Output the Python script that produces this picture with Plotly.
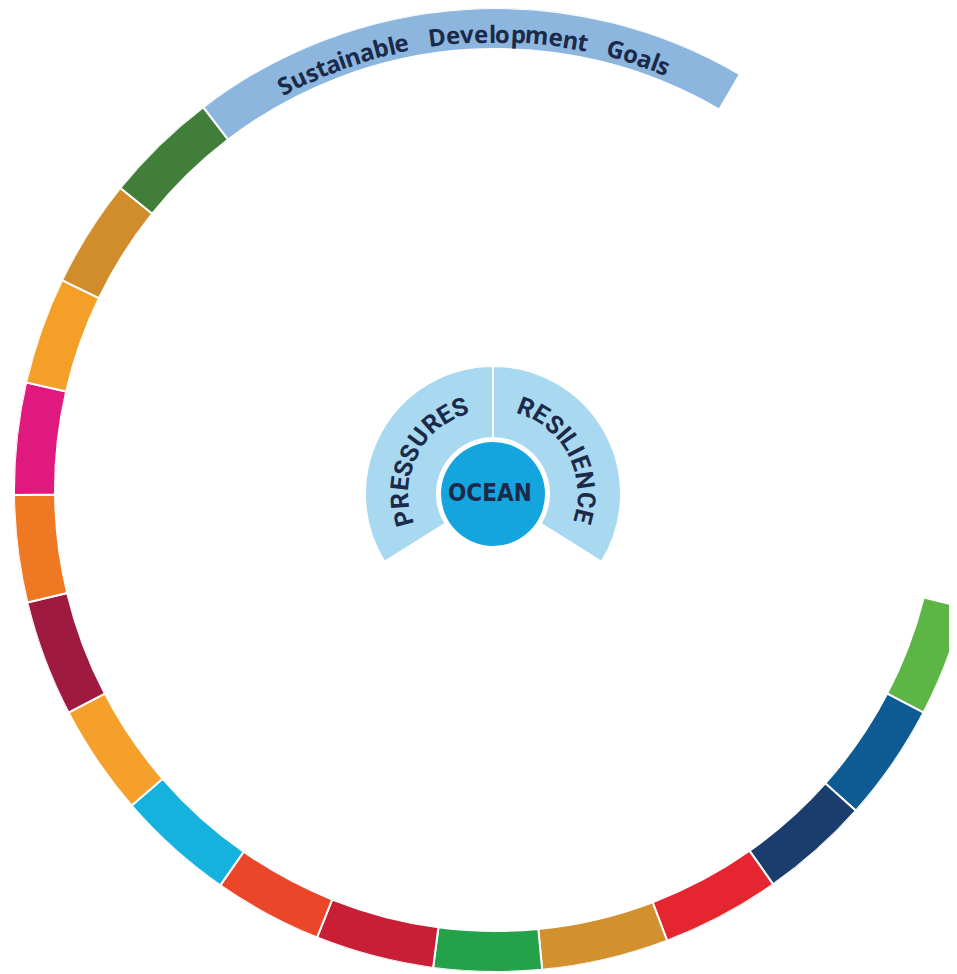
import math
import plotly.graph_objects as go

FIG_W, FIG_H = 957, 974
PAGE_MARGIN = 8   # default <body> margin of the html page; positions below are page pixels

# ---------------- data ----------------
sdg_numbers = [15, 16, 17, 1, 2, 3, 4, 5, 6, 7, 8, 9, 10, 11, 12, 13]
sdg_names = [
    "Life on land", "Peace, justice and strong institutions", "Partnerships for the goals",
    "No poverty", "Zero hunger", "Good health and well-being", "Quality education",
    "Gender equality", "Clean water and sanitation", "Affordable and clean energy",
    "Decent work and economic growth", "Industry, innovation and infrastructure",
    "Reduced inequalities", "Sustainable cities and communities",
    "Responsible consumption and production", "Climate action",
]
sdg_colors = [
    "#5DB546", "#0E5A93", "#1A3D6E", "#E52530", "#D3902F", "#24A24A", "#C81E36", "#EB452A",
    "#15B2DE", "#F4A02A", "#9E1A40", "#EE7922", "#E0197E", "#F4A028", "#D18D2B", "#417E3A",
]
# angular span of each SDG segment (degrees), read clockwise from goal 15
sdg_span_deg = [13.4, 14.2, 13.2, 14.3, 15.3, 13.0, 14.3, 13.1,
                14.2, 13.4, 14.0, 12.9, 13.5, 12.9, 13.0, 13.8]
sdg_start_deg = 345.9          # angle where goal 15 begins

band_label = "Sustainable Development Goals"
band_color = "#8DB6DF"
band_span_deg = 67.8

core_labels = ["PRESSURES", "RESILIENCE"]
core_start_deg = [212.0, 90.0]   # counter-clockwise edge of each arc
core_span_deg = [122.0, 122.0]
core_color = "#A9D8F1"
ocean_label = "OCEAN"
ocean_color = "#14A5DE"

# ---------------- geometry / styling (figure pixels) ----------------
RING_CX, RING_CY, RING_R = 496 - PAGE_MARGIN, 490 - PAGE_MARGIN, 482
RING_IN = 442
CORE_CX, CORE_CY, CORE_R = 493 - PAGE_MARGIN, 494 - PAGE_MARGIN, 130
OCEAN_R, CORE_IN, CORE_OUT = 52, 56, 128
TEXT_COLOR = "#1B2A49"

# segment centres
sdg_theta = []
a = sdg_start_deg
for w in sdg_span_deg:
    sdg_theta.append(a - w / 2)
    a -= w
band_start = a
band_theta = band_start - band_span_deg / 2
band_end = band_start - band_span_deg

core_theta = [s - w / 2 for s, w in zip(core_start_deg, core_span_deg)]

fig = go.Figure()

fig.add_trace(go.Barpolar(
    r=[RING_R - RING_IN + 1] * len(sdg_numbers),
    base=[RING_IN - 1] * len(sdg_numbers),
    theta=sdg_theta, width=sdg_span_deg,
    marker=dict(color=sdg_colors, line=dict(color="white", width=2)),
    customdata=[[n, s] for n, s in zip(sdg_numbers, sdg_names)],
    hovertemplate="SDG %{customdata[0]}: %{customdata[1]}<extra></extra>",
    subplot="polar", showlegend=False,
))
fig.add_trace(go.Barpolar(
    r=[RING_R - RING_IN + 1], base=[RING_IN - 1],
    theta=[band_theta], width=[band_span_deg],
    marker=dict(color=band_color, line=dict(color="white", width=2)),
    hovertemplate=band_label + "<extra></extra>",
    subplot="polar", showlegend=False,
))

fig.add_trace(go.Barpolar(
    r=[OCEAN_R], base=[0], theta=[0], width=[360],
    marker=dict(color=ocean_color, line=dict(width=0)),
    hovertemplate=ocean_label + "<extra></extra>",
    subplot="polar2", showlegend=False,
))
fig.add_trace(go.Barpolar(
    r=[CORE_OUT - CORE_IN] * 2, base=[CORE_IN] * 2,
    theta=core_theta, width=core_span_deg,
    marker=dict(color=core_color, line=dict(color="white", width=2)),
    text=core_labels, hovertemplate="%{text}<extra></extra>",
    subplot="polar2", showlegend=False,
))

# ring polar domain, from the sector bounding box
sector = [band_end - 1, sdg_start_deg + 0.3]
def sector_bbox(s0, s1):
    xs = [math.cos(math.radians(s0)), math.cos(math.radians(s1))]
    ys = [math.sin(math.radians(s0)), math.sin(math.radians(s1))]
    def covers(ang):
        return any(s0 <= ang + k * 360 <= s1 for k in (-1, 0, 1))
    x0 = -1 if covers(180) else min(xs + [0])
    x1 = 1 if covers(0) else max(xs + [0])
    y0 = -1 if covers(270) else min(ys + [0])
    y1 = 1 if covers(90) else max(ys + [0])
    return x0, y0, x1, y1
bx0, by0, bx1, by1 = sector_bbox(*sector)
ring_dom_x = [max(0, (RING_CX + bx0 * RING_R) / FIG_W), min(1, (RING_CX + bx1 * RING_R) / FIG_W)]
ring_dom_y = [max(0, (FIG_H - (RING_CY - by0 * RING_R)) / FIG_H),
              min(1, (FIG_H - (RING_CY - by1 * RING_R)) / FIG_H)]

hidden_ang = dict(visible=False, showgrid=False, showline=False, ticks="")
hidden_rad = dict(visible=False, showgrid=False, showline=False, ticks="")

fig.update_layout(
    width=FIG_W, height=FIG_H,
    margin=dict(l=0, r=0, t=0, b=0, pad=0),
    paper_bgcolor="white", plot_bgcolor="white",
    polar=dict(
        domain=dict(x=ring_dom_x, y=ring_dom_y),
        sector=sector, bgcolor="rgba(0,0,0,0)",
        radialaxis=dict(range=[0, RING_R], **hidden_rad),
        angularaxis=dict(direction="counterclockwise", rotation=0, **hidden_ang),
        barmode="overlay",
    ),
    polar2=dict(
        domain=dict(x=[(CORE_CX - CORE_R) / FIG_W, (CORE_CX + CORE_R) / FIG_W],
                    y=[(FIG_H - CORE_CY - CORE_R) / FIG_H, (FIG_H - CORE_CY + CORE_R) / FIG_H]),
        bgcolor="rgba(0,0,0,0)",
        radialaxis=dict(range=[0, CORE_R], **hidden_rad),
        angularaxis=dict(direction="counterclockwise", rotation=0, **hidden_ang),
        barmode="overlay",
    ),
)

CHAR_W = {' ': 0.75, 'S': .56, 'u': .58, 's': .47, 't': .36, 'a': .54, 'i': .25, 'n': .58,
          'b': .58, 'l': .25, 'e': .55, 'D': .70, 'v': .52, 'o': .58, 'p': .58, 'm': .88,
          'G': .68, 'P': .60, 'R': .62, 'E': .54, 'U': .70, 'L': .50, 'I': .28, 'N': .72,
          'C': .62, 'A': .64, 'O': .72}

def arc_text(text, cx, cy, r, a0, a1, size, weight, family, color):
    widths = [CHAR_W.get(ch, 0.6) for ch in text]
    centres, acc = [], 0.0
    for w in widths:
        centres.append(acc + w / 2)
        acc += w
    c0, c1 = centres[0], centres[-1]
    out = []
    for ch, c in zip(text, centres):
        if ch == ' ':
            continue
        t = a0 + (a1 - a0) * (c - c0) / (c1 - c0)
        x = cx + r * math.cos(math.radians(t))
        y = cy - r * math.sin(math.radians(t))
        out.append(dict(x=x / FIG_W, y=1 - y / FIG_H, xref="paper", yref="paper",
                        text=ch, showarrow=False, textangle=90 - t,
                        xanchor="center", yanchor="middle",
                        font=dict(size=size, color=color, family=family, weight=weight)))
    return out

anns = []
anns += arc_text(band_label, RING_CX, RING_CY, 457, 117.5, 68.4, 24, 700, "Open Sans", TEXT_COLOR)
anns += arc_text(core_labels[0], CORE_CX, CORE_CY, 93, 195.0, 111.0, 25, "bold", "Roboto", TEXT_COLOR)
anns += arc_text(core_labels[1], CORE_CX, CORE_CY, 93, 69.0, -14.0, 25, "bold", "Roboto", TEXT_COLOR)
anns.append(dict(x=(CORE_CX - 3) / FIG_W, y=1 - (CORE_CY - 1) / FIG_H, xref="paper", yref="paper",
                 text=ocean_label, showarrow=False, xanchor="center", yanchor="middle",
                 font=dict(size=24, color=TEXT_COLOR, family="DejaVu Sans Condensed, Roboto", weight="bold")))
fig.update_layout(annotations=anns)

fig.write_html("out.html")
